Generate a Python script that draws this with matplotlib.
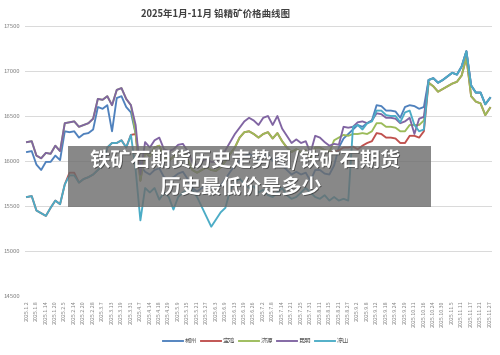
import matplotlib
matplotlib.use("Agg")
import matplotlib.pyplot as plt
import matplotlib.patheffects as pe
from matplotlib.patches import Rectangle

plt.rcParams['font.family'] = ['Noto Sans CJK SC', 'DejaVu Sans']

title = "2025年1月-11月 铅精矿价格曲线图"
series_names = ["郴州", "宝鸡", "济源", "昆明", "凉山"]
colors = ["#4F81BD", "#C0504D", "#9BBB59", "#8064A2", "#4BACC6"]

tick_labels = ["2025.1.2", "2025.1.8", "2025.1.14", "2025.1.20", "2025.2.5", "2025.2.14", "2025.2.20",
               "2025.2.28", "2025.3.7", "2025.3.13", "2025.3.19", "2025.3.31", "2025.4.7", "2025.4.14",
               "2025.4.18", "2025.4.29", "2025.5.9", "2025.5.15", "2025.5.21", "2025.5.27", "2025.6.3",
               "2025.6.9", "2025.6.13", "2025.6.19", "2025.6.26", "2025.7.2", "2025.7.8", "2025.7.14",
               "2025.7.21", "2025.7.25", "2025.7.31", "2025.8.11", "2025.8.15", "2025.8.21", "2025.8.27",
               "2025.9.2", "2025.9.8", "2025.9.12", "2025.9.18", "2025.9.24", "2025.9.29", "2025.10.11",
               "2025.10.16", "2025.10.24", "2025.10.30", "2025.11.5", "2025.11.11", "2025.11.17",
               "2025.11.21", "2025.11.27"]

chenzhou = [16100, 16110, 15960, 15900, 15990, 15990, 16060, 16010, 16330, 16320,
            16330, 16260, 16300, 16310, 16350, 16600, 16580, 16620, 16330, 16700,
            16720, 16600, 16540, 16300, 15950, 15880, 15850, 15900, 15920, 15820,
            15800, 15820, 15860, 15880, 15800, 15700, 15660, 15700, 15720, 15700,
            15700, 15730, 15800, 15880, 15950, 16000, 16050, 16080, 16050, 16000,
            16050, 16080, 16000, 16050, 15950, 15900, 15850, 15880, 15850, 15870,
            15780, 15900, 15900, 15860, 15850, 15950, 16150, 16250, 16300, 16350,
            16400, 16380, 16420, 16450, 16620, 16610, 16560, 16560, 16550, 16480,
            16600, 16620, 16610, 16580, 16600, 16900, 16920, 16870, 16900, 16940,
            16980, 16960, 17050, 17220, 16840, 16760, 16760, 16630, 16700]

baoji = [15600, 15610, 15450, 15420, 15390, 15480, 15560, 15520, 15740, 15870,
         15870, 15760, 15800, 15820, 15850, 15900, 15950, 16150, 16200, 16200,
         16230, 16150, 16290, 16300, 15780, 16100, 16050, 16150, 16170, 16050,
         16000, 16050, 16080, 16100, 16020, 15900, 15870, 15900, 15930, 15900,
         15890, 15930, 16000, 16080, 16150, 16260, 16320, 16330, 16300, 16260,
         16300, 16320, 16250, 16310, 16220, 16150, 16100, 16130, 16100, 16120,
         16020, 16150, 16150, 16120, 16100, 16100, 16120, 16150, 16150, 16160,
         16130, 16170, 16200, 16220, 16310, 16300, 16260, 16260, 16250, 16200,
         16200, 16280, 16280, 16260, 16330, 16870, 16830, 16770, 16800, 16830,
         16860, 16880, 16950, 17150, 16720, 16660, 16640, 16510, 16590]

jiyuan = [16210, 16220, 16060, 16030, 16090, 16080, 16170, 16110, 16420, 16430,
          16440, 16380, 16400, 16420, 16470, 16690, 16680, 16720, 16620, 16790,
          16810, 16690, 16620, 16300, 15780, 16100, 16050, 16150, 16170, 16050,
          16000, 16050, 16080, 16100, 16020, 15900, 15870, 15900, 15930, 15900,
          15890, 15930, 16000, 16080, 16150, 16260, 16320, 16330, 16300, 16260,
          16300, 16320, 16250, 16310, 16220, 16150, 16100, 16130, 16100, 16120,
          16020, 16150, 16150, 16120, 16100, 16230, 16260, 16290, 16280, 16300,
          16300, 16310, 16300, 16330, 16420, 16420, 16380, 16380, 16370, 16330,
          16330, 16400, 16400, 16400, 16450, 16870, 16830, 16770, 16800, 16830,
          16860, 16880, 16950, 17150, 16720, 16660, 16640, 16510, 16590]

kunming = [16210, 16220, 16060, 16030, 16090, 16080, 16170, 16110, 16420, 16430,
           16440, 16380, 16400, 16420, 16470, 16690, 16680, 16720, 16620, 16790,
           16810, 16690, 16620, 16400, 15850, 16210, 16150, 16230, 16260, 16130,
           16110, 16130, 16180, 16190, 16110, 15990, 15950, 16000, 16020, 15990,
           15990, 16030, 16120, 16210, 16300, 16370, 16440, 16480, 16450, 16400,
           16480, 16500, 16400, 16500, 16360, 16280, 16200, 16240, 16200, 16220,
           16090, 16280, 16260, 16210, 16170, 16190, 16180, 16380, 16370, 16380,
           16430, 16440, 16420, 16450, 16530, 16520, 16480, 16480, 16470, 16420,
           16440, 16480, 16300, 16470, 16490, 16900, 16920, 16870, 16900, 16940,
           16980, 16960, 17050, 17220, 16840, 16760, 16760, 16630, 16700]

liangshan = [15600, 15610, 15450, 15420, 15390, 15480, 15560, 15520, 15740, 15840,
             15840, 15760, 15800, 15820, 15850, 15900, 15950, 16150, 16200, 16200,
             16230, 16150, 16290, 15900, 15340, 15700, 15650, 15700, 15570, 15650,
             15600, 15460, 15600, 15650, 15680, 15680, 15600, 15490, 15380, 15270,
             15350, 15430, 15480, 15680, 15760, 15800, 15750, 15700, 15720, 15650,
             15680, 15620, 15600, 15650, 15700, 15620, 15580, 15600, 15650, 15700,
             15650, 15600, 15580, 15620, 15560, 15600, 15560, 15580, 15560, 16380,
             16400, 16350, 16420, 16440, 16560, 16560, 16510, 16500, 16500, 16430,
             16540, 16560, 16400, 16330, 16350, 16900, 16920, 16870, 16900, 16940,
             16980, 16960, 17050, 17220, 16840, 16760, 16760, 16630, 16700]

all_series = [chenzhou, baoji, jiyuan, kunming, liangshan]

W, H = 500, 355
fig = plt.figure(figsize=(W / 100, H / 100), dpi=100)
ax = fig.add_axes([25 / W, 1 - 296 / H, (492 - 25) / W, (296 - 26) / H])

n = len(chenzhou)
xs = list(range(n))
for name, vals, c in zip(series_names, all_series, colors):
    ax.plot(xs, vals, color=c, lw=1.35, label=name, solid_joinstyle='round')

ax.set_ylim(14500, 17500)
ax.set_yticks(range(14500, 17501, 500))
ax.set_xlim(-0.42, n - 1 + 0.42)
ax.set_xticks(range(0, n, 2))
ax.set_xticklabels(tick_labels, rotation=90, fontsize=3.8, color="#7f7f7f")
ax.tick_params(axis='y', labelsize=4.3, labelcolor="#7f7f7f", length=0, pad=3.5)
ax.tick_params(axis='x', length=0, pad=3)
ax.grid(axis='y', color="#d9d9d9", lw=0.7)
ax.set_axisbelow(True)
for s in ax.spines.values():
    s.set_visible(False)

fig.text(216 / W, 1 - 14 / H, title, ha='center', va='center', fontsize=6.8,
         fontweight='bold', color="#404040")

fig.legend(loc='center', bbox_to_anchor=(256 / W, 1 - 341 / H), ncol=5, frameon=False,
           fontsize=4.5, handlelength=3.2, columnspacing=0.6, handletextpad=0.3,
           labelcolor="#595959")

# overlay banner
fig.patches.append(Rectangle((68 / W, 1 - 207 / H), (431 - 68) / W, (207 - 146) / H,
                             transform=fig.transFigure, facecolor="#6b6b6b", alpha=0.8,
                             edgecolor='none', zorder=10))
eff = [pe.withSimplePatchShadow(offset=(0.6, -0.6), shadow_rgbFace='#333333', alpha=0.7)]
fig.text(245 / W, 1 - 160 / H, "铁矿石期货历史走势图/铁矿石期货", ha='center', va='center',
         fontsize=14.5, fontweight='bold', color='white', zorder=11, path_effects=eff)
fig.text(241 / W, 1 - 187 / H, "历史最低价是多少", ha='center', va='center',
         fontsize=14.5, fontweight='bold', color='white', zorder=11, path_effects=eff)

fig.savefig("out.png", dpi=100)
